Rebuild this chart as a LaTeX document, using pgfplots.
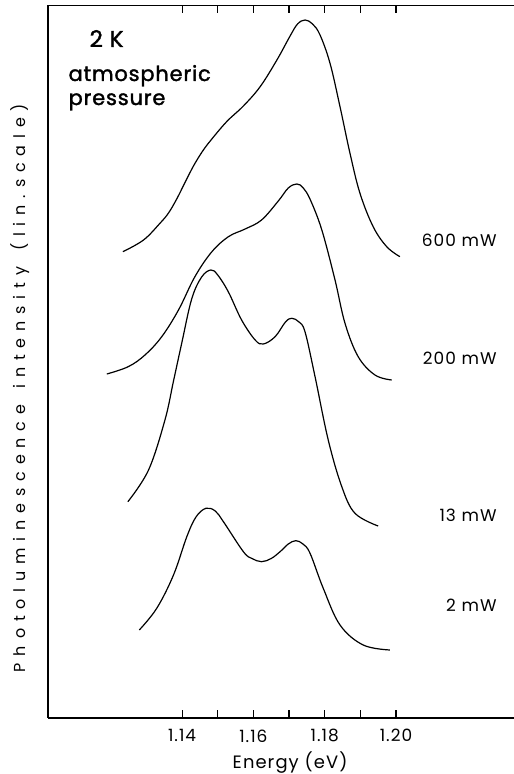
\documentclass[border=0pt]{standalone}
\usepackage{fontspec}
\setmainfont{Poppins}
\newfontfamily\ylabfont{Poppins}[LetterSpace=43]
\newfontfamily\boldish{Poppins}[FakeBold=1.6, LetterSpace=4]
\newfontfamily\labfont{Poppins}[LetterSpace=6]
\usepackage{pgfplots}
\pgfplotsset{compat=1.18}
\begin{document}
\begin{tikzpicture}
\useasboundingbox (-48bp,-56bp) rectangle (466bp,718bp);
\begin{axis}[
  at={(0,0)}, anchor=south west,
  scale only axis, width=466bp, height=712.7bp,
  xmin=1.1024, xmax=1.2331, ymin=0, ymax=712.7,
  axis x line*=box, axis y line*=left,
  axis line style={line width=1.1bp, black},
  xtick={1.14,1.15,1.16,1.17,1.18,1.19,1.20},
  xticklabels={1.14,,1.16,,1.18,,1.20},
  xtick pos=both, xtick align=inside,
  ytick=\empty,
  major tick length=8bp,
  tick style={line width=1.1bp, black},
  /pgf/number format/assume math mode=true,
  xticklabel style={font=\fontsize{17}{20}\selectfont\labfont, yshift=-8bp},
  clip=false,
]
% 600 mW
\addplot[smooth, tension=0.6, line width=1.2bp, black] coordinates {
(1.1234,466.3) (1.1292,478) (1.1338,494.7) (1.1362,505) (1.1385,519) (1.1409,536)
(1.1432,552) (1.1456,566) (1.1479,577) (1.1525,596.3) (1.1572,612) (1.1619,631.3)
(1.1666,658) (1.1703,682) (1.1724,694) (1.1745,698) (1.1766,694) (1.1787,683)
(1.1815,654.7) (1.1843,611.3) (1.1871,564.7) (1.1899,524.7) (1.1936,491.3)
(1.1974,471.3) (1.2011,461.3)};
% 200 mW
\addplot[smooth, tension=0.6, line width=1.2bp, black] coordinates {
(1.1189,344) (1.1249,351.3) (1.1296,363) (1.1343,381.3) (1.1390,408)
(1.1436,441.3) (1.1483,466) (1.1530,481.3) (1.1577,489) (1.1623,498)
(1.1670,517) (1.1698,530) (1.1722,534) (1.1740,530) (1.1760,518) (1.1792,488)
(1.1829,438) (1.1857,394.7) (1.1894,361.3) (1.1941,343) (1.1988,338)};
% 13 mW
\addplot[smooth, tension=0.6, line width=1.2bp, black] coordinates {
(1.1248,216.3) (1.1306,248) (1.1352,298) (1.1376,337) (1.1399,374.7) (1.1427,419)
(1.1455,441) (1.1481,448) (1.1500,443) (1.1530,426) (1.1567,398) (1.1605,378)
(1.1628,374) (1.1661,381.3) (1.1690,396) (1.1708,399.7) (1.1728,396) (1.1745,386)
(1.1773,341.3) (1.1810,278) (1.1848,231.3) (1.1885,204.7) (1.1950,192)};
% 2 mW
\addplot[smooth, tension=0.6, line width=1.2bp, black] coordinates {
(1.1280,88) (1.1329,109.7) (1.1376,143) (1.1413,181) (1.1439,201) (1.1467,209.7)
(1.1493,207) (1.1516,196.3) (1.1572,166.3) (1.1596,159.5) (1.1623,156.3)
(1.1650,159.5) (1.1675,166.3) (1.1698,174) (1.1719,177.3) (1.1739,174)
(1.1759,164.7) (1.1796,129.7) (1.1843,93) (1.1908,73) (1.1983,68)};
\node[anchor=base west, font=\fontsize{23}{26}\selectfont\boldish] at (axis cs:1.1131,671) {2 K};
\node[anchor=base west, font=\fontsize{21}{24}\selectfont\boldish] at (axis cs:1.1072,637) {atmospheric};
\node[anchor=base west, font=\fontsize{21}{24}\selectfont\boldish] at (axis cs:1.1072,613) {pressure};
\node[anchor=east, font=\fontsize{17}{20}\selectfont\labfont] at (axis cs:1.2292,478) {600\,\,mW};
\node[anchor=east, font=\fontsize{17}{20}\selectfont\labfont] at (axis cs:1.2292,360) {200\,\,mW};
\node[anchor=east, font=\fontsize{17}{20}\selectfont\labfont] at (axis cs:1.2292,203) {13\,\,mW};
\node[anchor=east, font=\fontsize{17}{20}\selectfont\labfont] at (axis cs:1.2292,113) {2\,\,mW};
\node[anchor=base, font=\fontsize{18}{21}\selectfont\labfont] at (axis cs:1.1703,-50) {Energy (eV)};
\node[rotate=90, font=\fontsize{16}{19}\selectfont\ylabfont] at (axis cs:1.0946,330) {Photoluminescence\hspace{1em}intensity\hspace{1em}(lin.scale)};
\end{axis}
\end{tikzpicture}
\end{document}
